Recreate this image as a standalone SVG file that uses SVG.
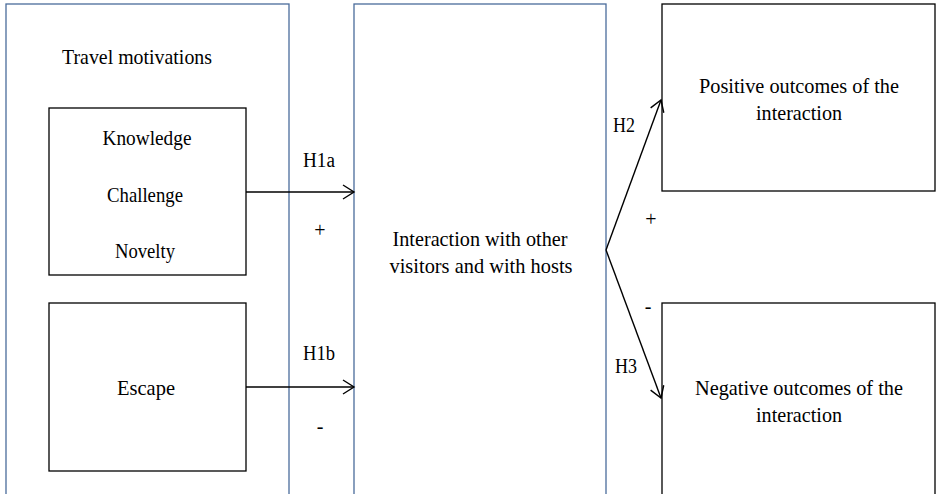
<svg xmlns="http://www.w3.org/2000/svg" width="937" height="494" viewBox="0 0 937 494">
<defs>
<style>
.blue{fill:#ffffff;stroke:#4a6c9b;stroke-width:1.3}
.box{fill:#ffffff;stroke:#000000;stroke-width:1.3}
text{font-family:"Liberation Serif","Times New Roman",serif;font-size:21px;fill:#000000;text-anchor:middle}
.sm{font-size:20px}
.conn{stroke:#000000;stroke-width:1.4;fill:none}
</style>
<marker id="arr" markerWidth="14" markerHeight="16" refX="12" refY="8" orient="auto" markerUnits="userSpaceOnUse">
<path d="M1,1 L12,8 L1,15" fill="none" stroke="#000000" stroke-width="1.4"/>
</marker>
</defs>
<rect width="937" height="494" fill="#ffffff"/>
<g id="travel-motivations">
<rect class="blue" x="6" y="4" width="283" height="500"/>
<text x="137" y="64" textLength="150" lengthAdjust="spacingAndGlyphs">Travel motivations</text>
</g>
<g id="kcn">
<rect class="box" x="49" y="108" width="197" height="167"/>
<text x="147" y="145" textLength="89" lengthAdjust="spacingAndGlyphs">Knowledge</text>
<text x="145" y="202" textLength="76" lengthAdjust="spacingAndGlyphs">Challenge</text>
<text x="145" y="258" textLength="60" lengthAdjust="spacingAndGlyphs">Novelty</text>
</g>
<g id="escape">
<rect class="box" x="49" y="303" width="197" height="168"/>
<text x="146" y="395" textLength="58" lengthAdjust="spacingAndGlyphs">Escape</text>
</g>
<g id="interaction">
<rect class="blue" x="354" y="4" width="252" height="500"/>
<text x="480" y="246" textLength="175" lengthAdjust="spacingAndGlyphs">Interaction with other</text>
<text x="481" y="273" textLength="183" lengthAdjust="spacingAndGlyphs">visitors and with hosts</text>
</g>
<g id="positive">
<rect class="box" x="662" y="4" width="273" height="187"/>
<text x="799" y="93" textLength="200" lengthAdjust="spacingAndGlyphs">Positive outcomes of the</text>
<text x="799" y="120" textLength="86" lengthAdjust="spacingAndGlyphs">interaction</text>
</g>
<g id="negative">
<rect class="box" x="662" y="303" width="273" height="201"/>
<text x="799" y="395" textLength="208" lengthAdjust="spacingAndGlyphs">Negative outcomes of the</text>
<text x="799" y="422" textLength="86" lengthAdjust="spacingAndGlyphs">interaction</text>
</g>
<g id="connectors">
<line class="conn" x1="246" y1="192" x2="354" y2="192" marker-end="url(#arr)"/>
<line class="conn" x1="246" y1="387" x2="354" y2="387" marker-end="url(#arr)"/>
<line class="conn" x1="606" y1="250" x2="661" y2="100" marker-end="url(#arr)"/>
<line class="conn" x1="606" y1="250" x2="661" y2="398" marker-end="url(#arr)"/>
<text class="sm" x="319" y="167" textLength="32" lengthAdjust="spacingAndGlyphs">H1a</text>
<text class="sm" x="320" y="237" fill="#333">+</text>
<text class="sm" x="319" y="360" textLength="32" lengthAdjust="spacingAndGlyphs">H1b</text>
<text class="sm" x="320" y="433">-</text>
<text class="sm" x="624" y="132" textLength="22" lengthAdjust="spacingAndGlyphs">H2</text>
<text class="sm" x="651" y="226">+</text>
<text class="sm" x="648" y="313">-</text>
<text class="sm" x="626" y="373" textLength="22" lengthAdjust="spacingAndGlyphs">H3</text>
</g>
</svg>
